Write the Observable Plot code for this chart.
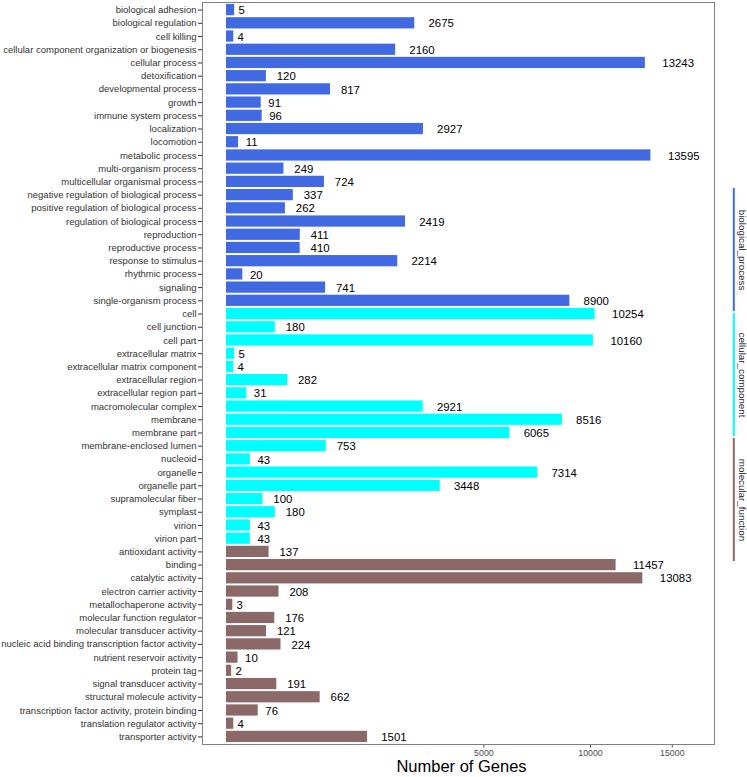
<!DOCTYPE html>
<html>
<head>
<meta charset="utf-8">
<script src="https://cdn.jsdelivr.net/npm/d3@7"></script>
<script src="https://cdn.jsdelivr.net/npm/@observablehq/plot@0.6"></script>
<style>
  html, body { margin: 0; padding: 0; background: #ffffff; }
  #wrap { position: relative; width: 747px; height: 777px; }
  #wrap svg { position: absolute; left: 0; top: 0; }
</style>
</head>
<body>
<div id="wrap"></div>
<script>
// ---- data ----
const groups = ["biological_process", "cellular_component", "molecular_function"];
const groupColors = ["#4169E1", "#00FFFF", "#8B6969"];

const bpNames = [
  "biological adhesion", "biological regulation", "cell killing",
  "cellular component organization or biogenesis", "cellular process",
  "detoxification", "developmental process", "growth", "immune system process",
  "localization", "locomotion", "metabolic process", "multi-organism process",
  "multicellular organismal process", "negative regulation of biological process",
  "positive regulation of biological process", "regulation of biological process",
  "reproduction", "reproductive process", "response to stimulus", "rhythmic process",
  "signaling", "single-organism process"
];
const bpValues = [5, 2675, 4, 2160, 13243, 120, 817, 91, 96, 2927, 11, 13595, 249, 724,
  337, 262, 2419, 411, 410, 2214, 20, 741, 8900];

const ccNames = [
  "cell", "cell junction", "cell part", "extracellular matrix",
  "extracellular matrix component", "extracellular region", "extracellular region part",
  "macromolecular complex", "membrane", "membrane part", "membrane-enclosed lumen",
  "nucleoid", "organelle", "organelle part", "supramolecular fiber", "symplast",
  "virion", "virion part"
];
const ccValues = [10254, 180, 10160, 5, 4, 282, 31, 2921, 8516, 6065, 753, 43, 7314,
  3448, 100, 180, 43, 43];

const mfNames = [
  "antioxidant activity", "binding", "catalytic activity", "electron carrier activity",
  "metallochaperone activity", "molecular function regulator",
  "molecular transducer activity", "nucleic acid binding transcription factor activity",
  "nutrient reservoir activity", "protein tag", "signal transducer activity",
  "structural molecule activity", "transcription factor activity, protein binding",
  "translation regulator activity", "transporter activity"
];
const mfValues = [137, 11457, 13083, 208, 3, 176, 121, 224, 10, 2, 191, 662, 76, 4, 1501];

const xTicks = [5000, 10000, 15000];
const xTitle = "Number of Genes";

// ---- table ----
const rows = [];
[[bpNames, bpValues], [ccNames, ccValues], [mfNames, mfValues]].forEach(([names, vals], gi) => {
  names.forEach((n, i) => rows.push({name: n, value: vals[i], group: groups[gi]}));
});
const categories = rows.map(d => d.name);

const font = "'Liberation Sans', Arial, Helvetica, sans-serif";

const labelMarks = [1, 2, 3, 4, 5].map(n =>
  Plot.text(rows, {
    filter: d => String(d.value).length === n,
    x: "value", y: "name", text: d => String(d.value),
    textAnchor: "start", dx: 3.3 * n + 0.5, dy: 0.5,
    fontSize: 11.4, fill: "#000"
  })
);

const main = Plot.plot({
  width: 747, height: 777,
  marginLeft: 202, marginRight: 33, marginTop: 2, marginBottom: 33,
  style: {fontFamily: font, background: "transparent"},
  x: {type: "sqrt", domain: [0, 17975], insetLeft: 24},
  y: {domain: categories, padding: 0.15, round: false},
  color: {domain: groups, range: groupColors},
  marks: [
    Plot.barX(rows, {x: "value", y: "name", fill: "group"}),
    ...labelMarks,
    Plot.axisY({tickSize: 4, tickPadding: 2, fontSize: 9.5, color: "#333", label: null}),
    Plot.axisX({ticks: xTicks, tickFormat: "d", tickSize: 3.5, tickPadding: 2, fontSize: 8.8, color: "#4d4d4d", label: null}),
    Plot.frame({stroke: "#808080"}),
    Plot.text([xTitle], {frameAnchor: "bottom", text: d => d, dy: 27.5, dx: 3, fontSize: 16.5, fill: "#000"})
  ]
});

const strip = Plot.plot({
  width: 747, height: 777,
  marginLeft: 0, marginRight: 0, marginTop: 188, marginBottom: 216,
  style: {fontFamily: font, background: "transparent"},
  x: {domain: [0, 1], range: [733.3, 741.7], axis: null},
  y: {domain: groups, paddingInner: 0.015, paddingOuter: 0, round: false, axis: null},
  color: {domain: groups, range: groupColors},
  marks: [
    Plot.tickX(groups, {x: () => 0, y: d => d, stroke: d => d, strokeWidth: 2}),
    Plot.text(groups, {x: () => 1, y: d => d, text: d => d, rotate: 90, fontSize: 9.8, fill: "#222"})
  ]
});

const wrap = document.getElementById("wrap");
wrap.appendChild(main);
wrap.appendChild(strip);
</script>
</body>
</html>
